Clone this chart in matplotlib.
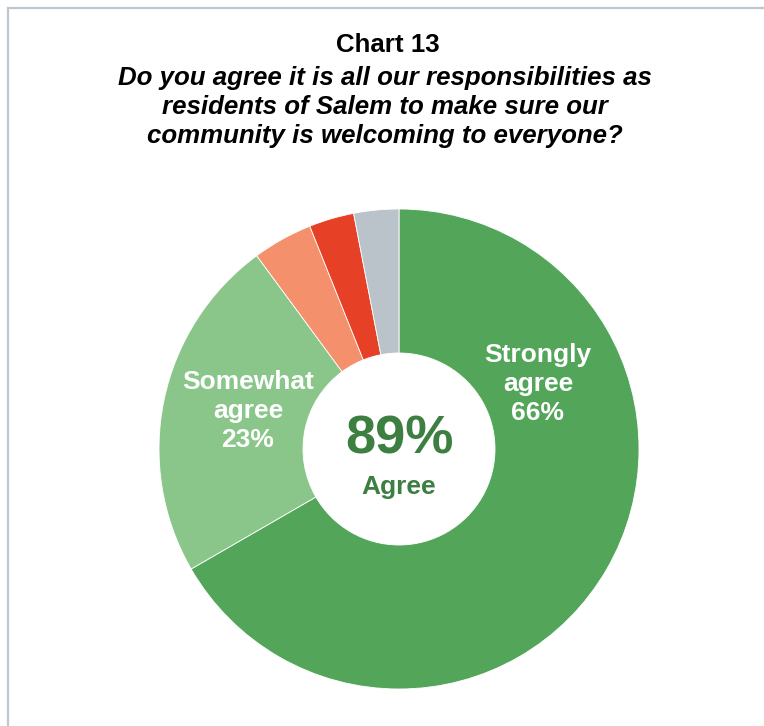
import matplotlib.pyplot as plt
from matplotlib.lines import Line2D

labels = ['Strongly agree', 'Somewhat agree', 'Somewhat disagree', 'Strongly disagree', "Don't know"]
values = [66, 23, 4, 3, 3]
colors = ['#53A55A', '#8AC689', '#F4906C', '#E64027', '#BAC3CA']
agree_total = values[0] + values[1]

plt.rcParams['font.family'] = ['Liberation Sans', 'DejaVu Sans']

W, H = 764, 726
fig = plt.figure(figsize=(W / 100, H / 100), dpi=100)

# frame: only top and left edges show
fig.add_artist(Line2D([8 / W, 8 / W], [0, 1 - 8 / H], transform=fig.transFigure,
                      color='#BFC7CD', lw=1.6))
fig.add_artist(Line2D([8 / W, 1], [1 - 8 / H, 1 - 8 / H], transform=fig.transFigure,
                      color='#BFC7CD', lw=1.6))

fig.text(388 / W, 1 - 45 / H, 'Chart 13', ha='center', va='center',
         fontsize=18.6, fontweight='bold')
fig.text(385 / W, 1 - 107 / H,
         'Do you agree it is all our responsibilities as\n'
         'residents of Salem to make sure our\n'
         'community is welcoming to everyone?',
         ha='center', va='center', fontsize=18.6, fontweight='bold',
         fontstyle='italic', linespacing=1.24)

cx, cy, r = 399, 449, 240
ax = fig.add_axes([(cx - r) / W, (H - cy - r) / H, 2 * r / W, 2 * r / H])
ax.pie(values, colors=colors, startangle=90, counterclock=False,
       wedgeprops=dict(width=1 - 96 / 240, edgecolor='white', linewidth=0.6))
ax.set_xlim(-1, 1)
ax.set_ylim(-1, 1)
ax.set_aspect('equal')
ax.axis('off')

ax.text(139 / r, 65 / r, f'Strongly\nagree\n{values[0]}%', ha='center', va='center',
        color='white', fontsize=19, fontweight='bold', linespacing=1.24)
ax.text(-151 / r, 38 / r, f'Somewhat\nagree\n{values[1]}%', ha='center', va='center',
        color='white', fontsize=19, fontweight='bold', linespacing=1.24)
ax.text(0, 10 / r, f'{agree_total}%', ha='center', va='center',
        color='#3D7F40', fontsize=39, fontweight='bold')
ax.text(0, -38 / r, 'Agree', ha='center', va='center',
        color='#3D7F40', fontsize=19, fontweight='bold')

fig.savefig('out.png', dpi=100)
